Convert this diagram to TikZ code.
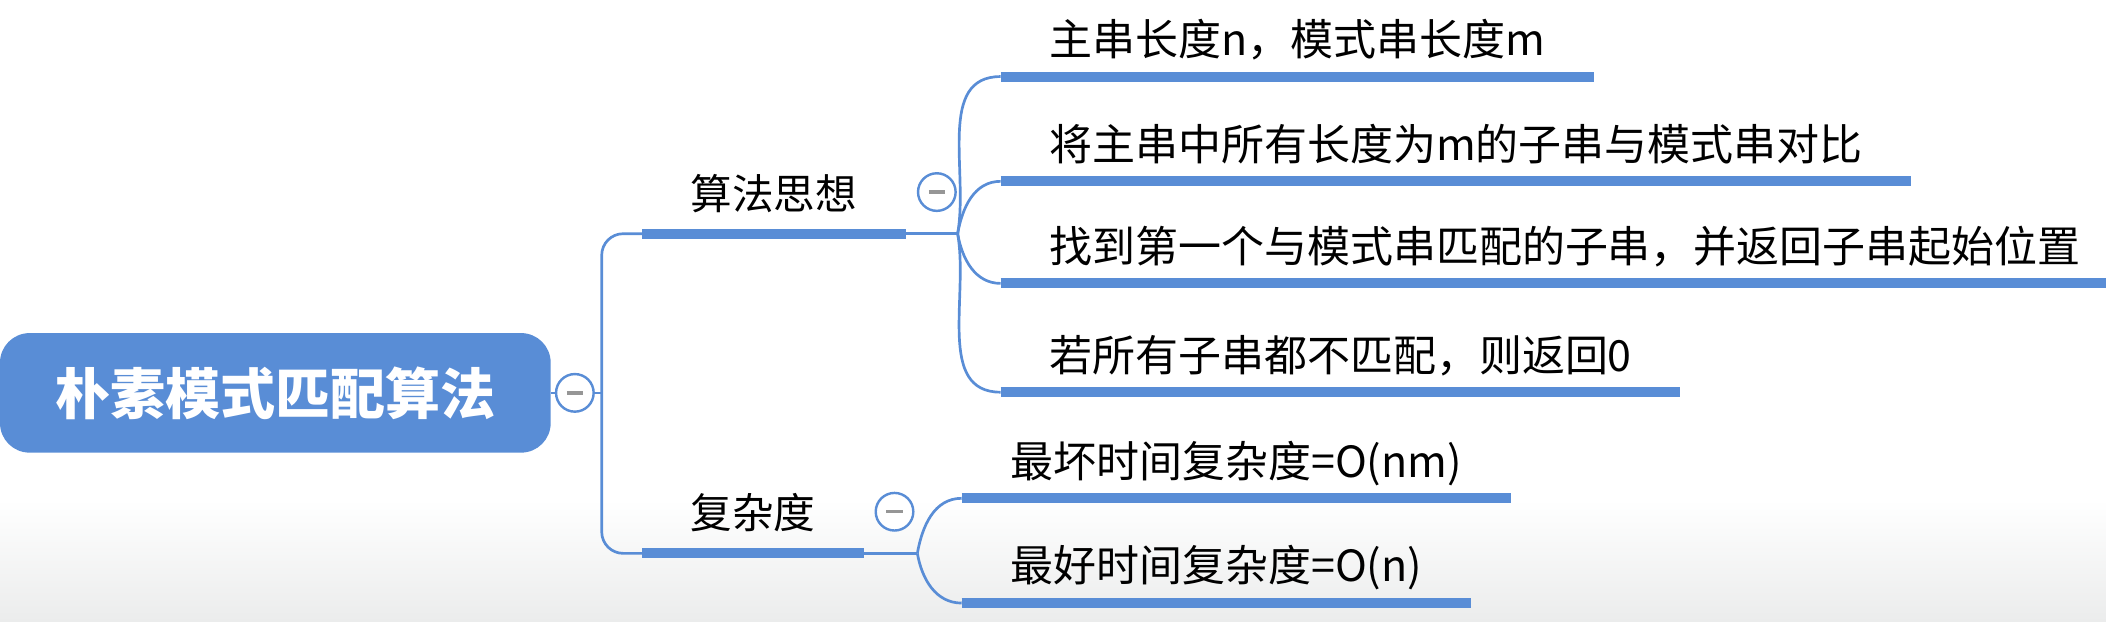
\documentclass[tikz,border=0pt]{standalone}
\usepackage{fontspec}
\setmainfont{Noto Sans CJK SC}
\usetikzlibrary{calc,positioning}
\definecolor{mapblue}{RGB}{89,141,214}
\definecolor{dashgray}{RGB}{150,150,150}
\definecolor{bggray}{RGB}{235,236,236}
\tikzstyle{root} = [rectangle, rounded corners=22pt, fill=mapblue, text=white, minimum width=410pt, minimum height=89pt, font=\fontsize{41}{49}\selectfont\bfseries]
\tikzstyle{topic} = [anchor=south west, inner xsep=36pt, inner ysep=18pt, text depth=0pt, font=\fontsize{31}{37}\selectfont]
\tikzstyle{leaf} = [topic, inner ysep=15.5pt, font=\fontsize{32}{38}\selectfont]
\tikzstyle{uline} = [draw=mapblue, line width=7.5pt]
\tikzstyle{link} = [draw=mapblue, line width=2pt]
\tikzstyle{fold} = [circle, draw=mapblue, line width=1.8pt, fill=white, minimum size=28pt, inner sep=0pt,
  path picture={\draw[dashgray, line width=2.5pt] ($(path picture bounding box.center)+(-6pt,0)$) -- ($(path picture bounding box.center)+(6pt,0)$);}]

\begin{document}
\begin{tikzpicture}[x=1pt, y=1pt]
  \useasboundingbox (0,0) rectangle (1568,-463);
  \shade[top color=white, bottom color=bggray] (0,-372) rectangle (1568,-463);
  \node[root] (R) at (205,-292.5) {朴素模式匹配算法};
  \node[fold] (RF) at (428,-292.5) {};
  \coordinate (T) at (448,-292.5);
  \node[topic] (A) at (478,-174) {算法思想};
  \node[topic] (C) at (478,-412) {复杂度};
  \node[fold] (AF) at (697.5,-143) {};
  \node[fold] (CF) at (666,-381) {};
  \coordinate (AJ) at (713,-174);
  \coordinate (CJ) at (683,-412);
  \node[leaf] (A1) at (745,-57) {主串长度n，模式串长度m};
  \node[leaf] (A2) at (745,-135) {将主串中所有长度为m的子串与模式串对比};
  \node[leaf] (A3) at (745,-211) {找到第一个与模式串匹配的子串，并返回子串起始位置};
  \node[leaf] (A4) at (745,-292) {若所有子串都不匹配，则返回0};
  \node[leaf] (C1) at (716,-371) {最坏时间复杂度=O(nm)};
  \node[leaf] (C2) at (716,-449) {最好时间复杂度=O(n)};
  % connectors
  \draw[link] (R) -- (RF);
  \draw[link] (RF) -- (T);
  \draw[link, rounded corners=16pt] (A.south west) -| (T) |- (C.south west);
  \draw[link] (A.south east) -- (AJ);
  \draw[link] (C.south east) -- (CJ);
  \foreach \n in {A1,A2} \draw[link] (AJ) to[out=80, in=180] (\n.south west);
  \foreach \n in {A3,A4} \draw[link] (AJ) to[out=-80, in=180] (\n.south west);
  \draw[link] (CJ) to[out=80, in=180] (C1.south west);
  \draw[link] (CJ) to[out=-80, in=180] (C2.south west);
  % underlines
  \foreach \n in {A,C,A1,A2,A3,A4,C1,C2} \draw[uline] (\n.south west) -- (\n.south east);
\end{tikzpicture}
\end{document}
